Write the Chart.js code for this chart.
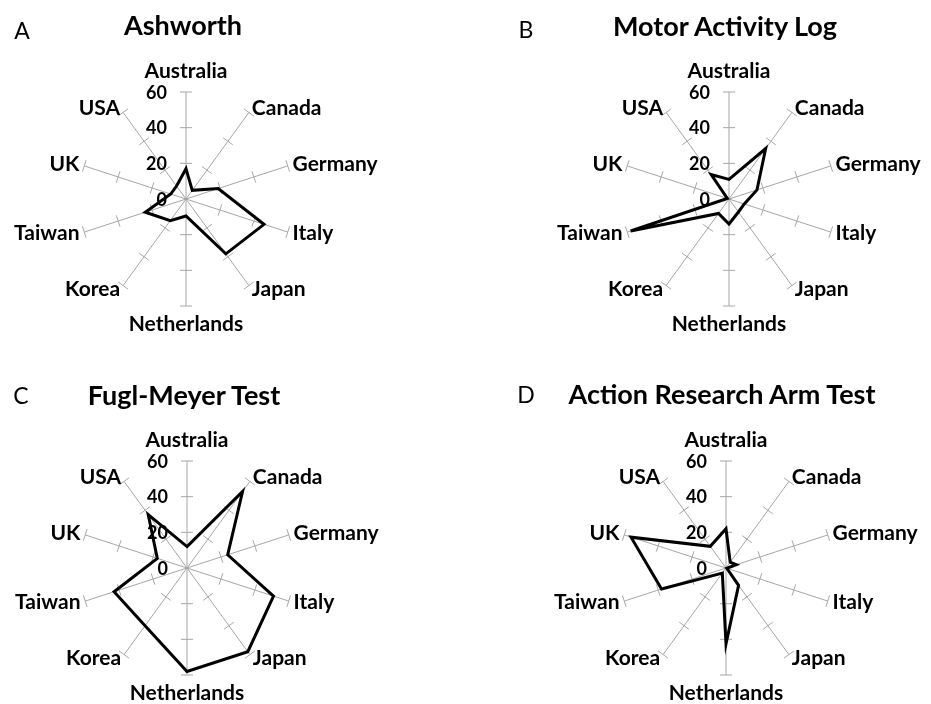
<!DOCTYPE html>
<html>
<head>
<meta charset="utf-8">
<script src="https://cdn.jsdelivr.net/npm/chart.js@4.4.0/dist/chart.umd.min.js"></script>
<style>
  body { margin: 0; background: #fff; width: 931px; height: 704px; position: relative; overflow: hidden; font-family: Lato, "Open Sans", sans-serif; }
  canvas { position: absolute; }
  .title { position: absolute; font-weight: bold; font-size: 27px; line-height: 27px; white-space: nowrap; transform: translate(-50%, -50%); color: #000; }
  .letter { position: absolute; font-size: 23px; line-height: 23px; transform: translate(-50%, -50%); color: #000; }
</style>
</head>
<body>
<canvas id="chartA" width="465" height="352" style="left:0;top:0"></canvas>
<canvas id="chartB" width="466" height="352" style="left:465px;top:0"></canvas>
<canvas id="chartC" width="465" height="352" style="left:0;top:352px"></canvas>
<canvas id="chartD" width="466" height="352" style="left:465px;top:352px"></canvas>

<div class="letter" style="left:22px;top:30px">A</div>
<div class="title" style="left:183px;top:24px">Ashworth</div>
<div class="letter" style="left:526px;top:29px">B</div>
<div class="title" style="left:725px;top:25px">Motor Activity Log</div>
<div class="letter" style="left:21px;top:395px">C</div>
<div class="title" style="left:184px;top:394px">Fugl-Meyer Test</div>
<div class="letter" style="left:526px;top:394px">D</div>
<div class="title" style="left:722px;top:393px">Action Research Arm Test</div>

<script>
const countries = ['Australia', 'Canada', 'Germany', 'Italy', 'Japan', 'Netherlands', 'Korea', 'Taiwan', 'UK', 'USA'];
const ashworth = [17, 6, 19, 46, 38, 9.5, 15, 24, 9, 9];
const motorActivityLog = [11, 35, 16.5, 9, 9, 14, 10, 58, 1, 17];
const fuglMeyer = [12, 53, 24, 51, 58, 58, 40, 43, 17.5, 37];
const actionResearchArm = [22, 4, 6, 0.5, 12, 42.5, 3.5, 38, 56, 15];
const tickValues = [0, 20, 40, 60];

const spokeColor = '#a6a6a6';
const labelFont = 'bold 21px Lato, "Open Sans", sans-serif';
const tickFont = 'bold 18px Lato, "Open Sans", sans-serif';

// tick marks across every spoke, value labels, country labels
const spokeMarks = {
    id: 'spokeMarks',
    beforeDatasetsDraw(chart) {
        const scale = chart.scales.r;
        const ctx = chart.ctx;
        ctx.save();
        ctx.strokeStyle = spokeColor;
        ctx.lineWidth = 1;
        countries.forEach((c, i) => {
            const p0 = scale.getPointPosition(i, 0);
            const nx = -Math.sin(p0.angle), ny = Math.cos(p0.angle);
            tickValues.slice(1).forEach(v => {
                const p = scale.getPointPosition(i, scale.getDistanceFromCenterForValue(v));
                ctx.beginPath();
                ctx.moveTo(p.x - nx * 6, p.y - ny * 6);
                ctx.lineTo(p.x + nx * 6, p.y + ny * 6);
                ctx.stroke();
            });
        });

        ctx.fillStyle = '#000';
        ctx.font = tickFont;
        ctx.textAlign = 'right';
        ctx.textBaseline = 'middle';
        tickValues.forEach(v => {
            const d = scale.getDistanceFromCenterForValue(v);
            ctx.fillText(String(v), scale.xCenter - 19, scale.yCenter - d + 1);
        });
        ctx.restore();
    },
    afterDraw(chart) {
        const scale = chart.scales.r;
        const ctx = chart.ctx;
        const outer = scale.getDistanceFromCenterForValue(60);
        ctx.save();
        ctx.fillStyle = '#000';
        ctx.font = labelFont;
        ctx.textBaseline = 'middle';
        countries.forEach((c, i) => {
            const dir = scale.getPointPosition(i, 1);
            const dx = dir.x - scale.xCenter;
            const dy = dir.y - scale.yCenter;
            let pos;
            if (Math.abs(dx) < 0.1) {
                ctx.textAlign = 'center';
                pos = scale.getPointPosition(i, outer + (dy < 0 ? 21 : 18));
            } else {
                ctx.textAlign = dx > 0 ? 'left' : 'right';
                pos = scale.getPointPosition(i, outer + 5);
            }
            ctx.fillText(c, pos.x, pos.y);
        });
        ctx.restore();
    }
};

function makeRadar(id, values, pad) {
    const ctx = document.getElementById(id).getContext('2d');
    return new Chart(ctx, {
        type: 'radar',
        data: {
            labels: countries,
            datasets: [{
                data: values,
                borderColor: '#000',
                borderWidth: 3,
                fill: false,
                pointRadius: 0,
                pointHoverRadius: 0,
                tension: 0
            }]
        },
        options: {
            responsive: false,
            animation: false,
            events: [],
            layout: { padding: pad },
            plugins: {
                legend: { display: false },
                tooltip: { enabled: false }
            },
            scales: {
                r: {
                    min: 0,
                    max: 60,
                    ticks: { display: false, stepSize: 20 },
                    grid: { display: false },
                    angleLines: { display: true, color: spokeColor, lineWidth: 1 },
                    pointLabels: { display: false }
                }
            }
        },
        plugins: [spokeMarks]
    });
}

document.addEventListener('DOMContentLoaded', function () {
    makeRadar('chartA', ashworth, { left: 79, right: 172, top: 92, bottom: 46 });
    makeRadar('chartB', motorActivityLog, { left: 157, right: 95, top: 92, bottom: 46 });
    makeRadar('chartC', fuglMeyer, { left: 80, right: 171, top: 109, bottom: 29 });
    makeRadar('chartD', actionResearchArm, { left: 154, right: 98, top: 109, bottom: 29 });
});
</script>
</body>
</html>
